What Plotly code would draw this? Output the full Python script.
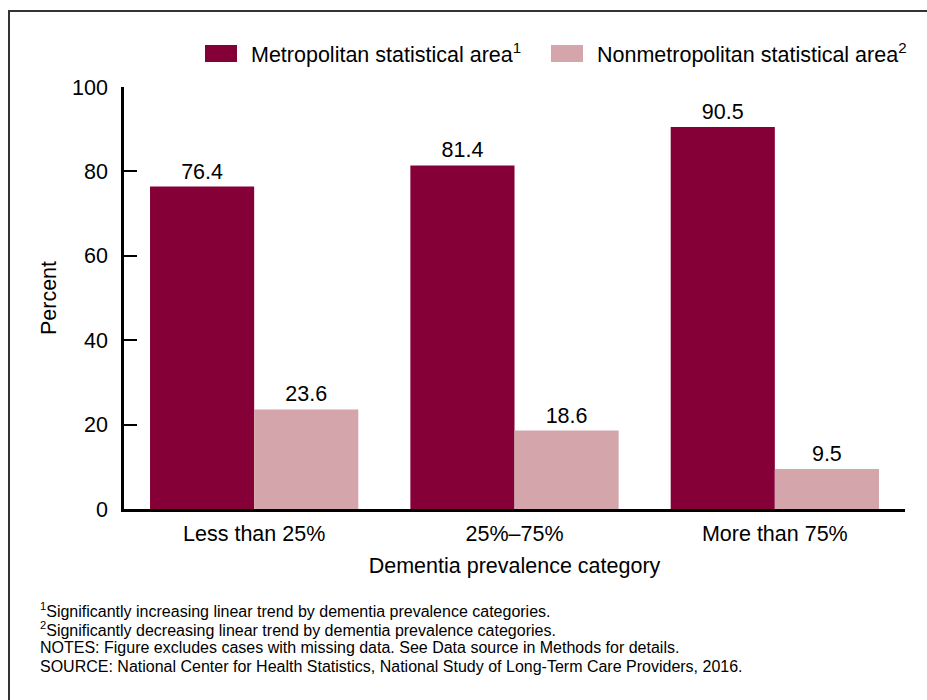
import plotly.graph_objects as go

categories = ["Less than 25%", "25%\u201375%", "More than 75%"]
metro_values = [76.4, 81.4, 90.5]
nonmetro_values = [23.6, 18.6, 9.5]
series_names = ["Metropolitan statistical area<sup>1</sup>", "Nonmetropolitan statistical area<sup>2</sup>"]
y_ticks = [0, 20, 40, 60, 80, 100]
footnotes = [
    "<sup>1</sup>Significantly increasing linear trend by dementia prevalence categories.",
    "<sup>2</sup>Significantly decreasing linear trend by dementia prevalence categories.",
    "NOTES: Figure excludes cases with missing data. See Data source in Methods for details.",
    "SOURCE: National Center for Health Statistics, National Study of Long-Term Care Providers, 2016.",
]

W, H = 927, 700
L, R, T, B = 124, 22, 87, 191
PW, PH = W - L - R, H - T - B

def px(x):
    return (x - L) / PW

def py(y):
    return (H - B - y) / PH

METRO = "#850036"
NONMETRO = "#d4a6ab"
FONT = "Liberation Sans, Arial, sans-serif"
FS = 21.5

fig = go.Figure()
fig.add_trace(go.Bar(x=categories, y=metro_values, marker=dict(color=METRO, line=dict(width=0)),
                     text=[f"{v:.1f}" for v in metro_values], textposition="outside",
                     textfont=dict(size=FS, color="black"), cliponaxis=False, showlegend=False,
                     name="Metropolitan statistical area"))
fig.add_trace(go.Bar(x=categories, y=nonmetro_values, marker=dict(color=NONMETRO, line=dict(width=0)),
                     text=[f"{v:.1f}" for v in nonmetro_values], textposition="outside",
                     textfont=dict(size=FS, color="black"), cliponaxis=False, showlegend=False,
                     name="Nonmetropolitan statistical area"))

shapes = []
annotations = []
# frame
shapes.append(dict(type="rect", xref="paper", yref="paper", x0=px(9), x1=px(960), y0=py(11), y1=py(740),
                   line=dict(color="#333333", width=2), fillcolor="rgba(0,0,0,0)", layer="below"))
# custom legend
leg = [(205, 237, 249, series_names[0], METRO), (551, 583, 595, series_names[1], NONMETRO)]
for x0, x1, tx, name, col in leg:
    shapes.append(dict(type="rect", xref="paper", yref="paper", x0=px(x0), x1=px(x1), y0=py(62), y1=py(45),
                       fillcolor=col, line=dict(width=0)))
    annotations.append(dict(xref="paper", yref="paper", x=px(tx), y=py(53), text=name, showarrow=False,
                            xanchor="left", yanchor="middle", font=dict(size=FS, color="black")))
# footnotes
for i, t in enumerate(footnotes):
    annotations.append(dict(xref="paper", yref="paper", x=px(38), y=py(610 + i * 18.7), text=t, showarrow=False,
                            xanchor="left", yanchor="middle", font=dict(size=16, color="black")))

fig.update_layout(
    width=W, height=H,
    margin=dict(l=L, r=R, t=T, b=B, pad=0),
    paper_bgcolor="white", plot_bgcolor="white",
    font=dict(family=FONT, color="black", size=FS),
    barmode="group", bargap=0.2, bargroupgap=0,
    shapes=shapes, annotations=annotations,
    showlegend=False,
)
fig.update_xaxes(range=[-0.5, 2.5], showline=True, linecolor="black", linewidth=2.5, ticks="",
                 tickfont=dict(size=FS), ticklabelstandoff=3,
                 title=dict(text="Dementia prevalence category", font=dict(size=FS), standoff=14),
                 showgrid=False, zeroline=False, fixedrange=True)
fig.update_yaxes(range=[0, 100], tickvals=y_ticks, showline=True, linecolor="black", linewidth=2.5,
                 ticks="inside", ticklen=13, tickwidth=2, tickcolor="black", tickfont=dict(size=FS),
                 ticklabelstandoff=9,
                 title=dict(text="Percent", font=dict(size=FS), standoff=10),
                 showgrid=False, zeroline=False, fixedrange=True)

fig.write_html("out.html", config={"displayModeBar": False},
               post_script="document.body.style.margin='0px';document.body.style.overflow='hidden';")
